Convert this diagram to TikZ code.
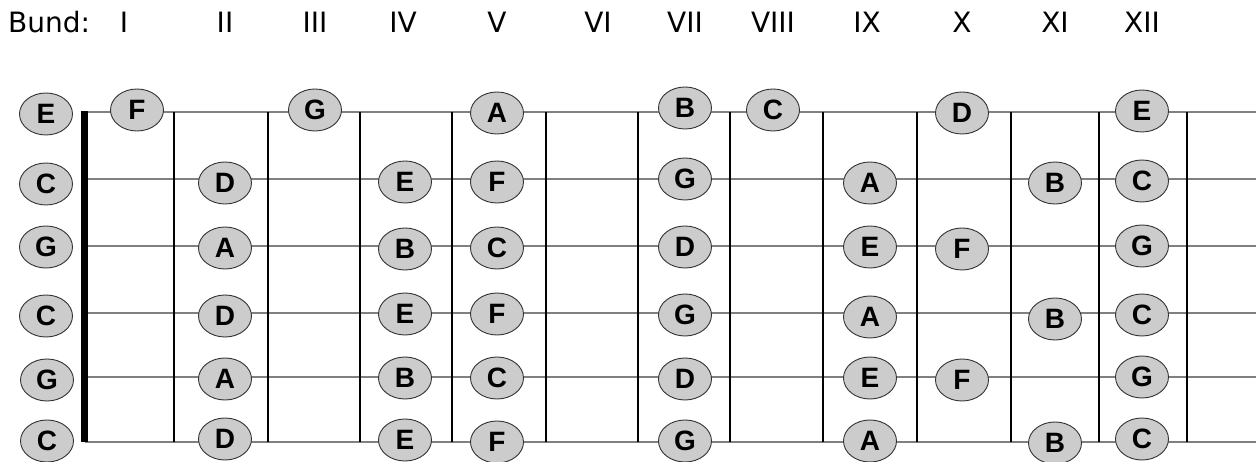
\documentclass[tikz,border=0pt]{standalone}
\usepackage{fontspec}
\setmainfont{DejaVu Sans}
\newfontfamily\notefont{Liberation Sans}
\usetikzlibrary{shapes.geometric}
\definecolor{notefill}{HTML}{CCCCCC}
\definecolor{saitengrau}{HTML}{808080}

\begin{document}
\begin{tikzpicture}[x=1pt,y=-1pt,
  note/.style={ellipse,draw=black!80,line width=0.9pt,fill=notefill,minimum width=53pt,minimum height=42pt,inner sep=0pt,font=\notefont\fontsize{28}{28}\selectfont\bfseries},
  saite/.style={saitengrau,line width=2pt},
  bundstab/.style={black,line width=1.1pt},
  sattel/.style={black,line width=7pt},
  kopf/.style={anchor=base,font=\fontsize{28}{28}\selectfont,inner sep=0pt}]
\useasboundingbox (0,0) rectangle (1259,462);
% header: fret numbers
\node[kopf,anchor=base west] (bund) at (8,33) {Bund:};
\node[kopf] (r1)  at (124,33)  {I};
\node[kopf] (r2)  at (225,33)  {II};
\node[kopf] (r3)  at (315,33)  {III};
\node[kopf] (r4)  at (403,33)  {IV};
\node[kopf] (r5)  at (497,33)  {V};
\node[kopf] (r6)  at (598,33)  {VI};
\node[kopf] (r7)  at (685,33)  {VII};
\node[kopf] (r8)  at (773,33)  {VIII};
\node[kopf] (r9)  at (867,33)  {IX};
\node[kopf] (r10) at (962,33)  {X};
\node[kopf] (r11) at (1055,33) {XI};
\node[kopf] (r12) at (1142,33) {XII};
% strings
\draw[saite] (85,112) -- (1256,112);
\draw[saite] (85,179) -- (1256,179);
\draw[saite] (85,246) -- (1256,246);
\draw[saite] (85,313) -- (1256,313);
\draw[saite] (85,377) -- (1256,377);
\draw[saite] (85,442) -- (1256,442);
% frets and nut
\draw[bundstab] (174,112) -- (174,442);
\draw[bundstab] (268,112) -- (268,442);
\draw[bundstab] (360,112) -- (360,442);
\draw[bundstab] (452,112) -- (452,442);
\draw[bundstab] (546,112) -- (546,442);
\draw[bundstab] (638,112) -- (638,442);
\draw[bundstab] (730,112) -- (730,442);
\draw[bundstab] (823,112) -- (823,442);
\draw[bundstab] (917,112) -- (917,442);
\draw[bundstab] (1011,112) -- (1011,442);
\draw[bundstab] (1099,112) -- (1099,442);
\draw[bundstab] (1187,112) -- (1187,442);
\draw[sattel] (84.5,111) -- (84.5,442);
% string 1 (E)
\node[note] (s1f0)  at (46,114)   {E};
\node[note] (s1f1)  at (137,110)  {F};
\node[note] (s1f3)  at (315,110)  {G};
\node[note] (s1f5)  at (497,113)  {A};
\node[note] (s1f7)  at (685,108)  {B};
\node[note] (s1f8)  at (773,110)  {C};
\node[note] (s1f10) at (962,113)  {D};
\node[note] (s1f12) at (1142,111) {E};
% string 2 (C)
\node[note] (s2f0)  at (46,184)   {C};
\node[note] (s2f2)  at (225,183)  {D};
\node[note] (s2f4)  at (405,182)  {E};
\node[note] (s2f5)  at (497,182)  {F};
\node[note] (s2f7)  at (685,179)  {G};
\node[note] (s2f9)  at (870,183)  {A};
\node[note] (s2f11) at (1055,183) {B};
\node[note] (s2f12) at (1142,181) {C};
% string 3 (G)
\node[note] (s3f0)  at (46,247)   {G};
\node[note] (s3f2)  at (225,248)  {A};
\node[note] (s3f4)  at (405,249)  {B};
\node[note] (s3f5)  at (497,248)  {C};
\node[note] (s3f7)  at (685,247)  {D};
\node[note] (s3f9)  at (870,247)  {E};
\node[note] (s3f10) at (962,249)  {F};
\node[note] (s3f12) at (1142,246) {G};
% string 4 (C)
\node[note] (s4f0)  at (46,316)   {C};
\node[note] (s4f2)  at (225,316)  {D};
\node[note] (s4f4)  at (405,314)  {E};
\node[note] (s4f5)  at (497,314)  {F};
\node[note] (s4f7)  at (685,315)  {G};
\node[note] (s4f9)  at (870,317)  {A};
\node[note] (s4f11) at (1055,319) {B};
\node[note] (s4f12) at (1142,315) {C};
% string 5 (G)
\node[note] (s5f0)  at (47,380)   {G};
\node[note] (s5f2)  at (225,379)  {A};
\node[note] (s5f4)  at (405,378)  {B};
\node[note] (s5f5)  at (497,378)  {C};
\node[note] (s5f7)  at (685,379)  {D};
\node[note] (s5f9)  at (870,378)  {E};
\node[note] (s5f10) at (962,380)  {F};
\node[note] (s5f12) at (1142,377) {G};
% string 6 (C)
\node[note] (s6f0)  at (47,441)   {C};
\node[note] (s6f2)  at (225,439)  {D};
\node[note] (s6f4)  at (405,440)  {E};
\node[note] (s6f5)  at (497,442)  {F};
\node[note] (s6f7)  at (685,441)  {G};
\node[note] (s6f9)  at (870,441)  {A};
\node[note] (s6f11) at (1055,443) {B};
\node[note] (s6f12) at (1142,439) {C};
\end{tikzpicture}
\end{document}
